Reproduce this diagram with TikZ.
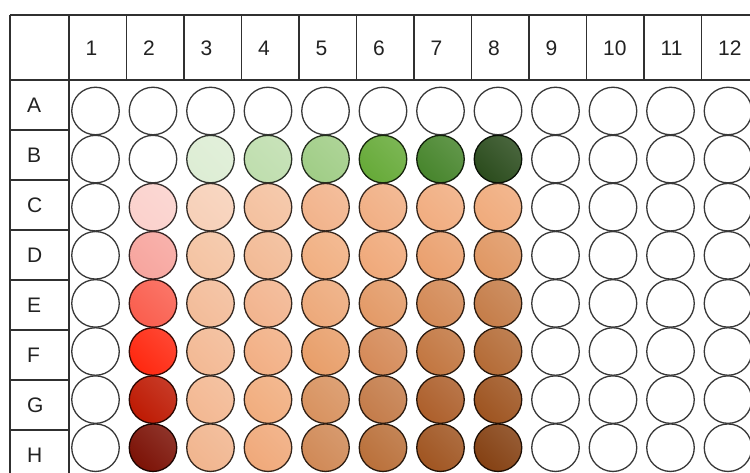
\documentclass[tikz,border=0pt]{standalone}
\usepackage{fontspec}
\setmainfont{Liberation Sans}
% well colours (all others white)
\definecolor{wB3}{HTML}{DDEDD4}\definecolor{wB4}{HTML}{BFDEAE}\definecolor{wB5}{HTML}{A0CD86}
\definecolor{wB6}{HTML}{66AA38}\definecolor{wB7}{HTML}{47852C}\definecolor{wB8}{HTML}{2B4C1D}
\definecolor{wC2}{HTML}{FBD1CC}\definecolor{wD2}{HTML}{F7A59E}\definecolor{wE2}{HTML}{FA5E4E}
\definecolor{wF2}{HTML}{FF2810}\definecolor{wG2}{HTML}{BE1A03}\definecolor{wH2}{HTML}{7C1206}
\definecolor{wC3}{HTML}{F7D0B8}\definecolor{wC4}{HTML}{F4C19F}\definecolor{wC5}{HTML}{F2B38B}
\definecolor{wC6}{HTML}{F1AF84}\definecolor{wC7}{HTML}{F1AD80}\definecolor{wC8}{HTML}{F0AB7C}
\definecolor{wD3}{HTML}{F4C3A2}\definecolor{wD4}{HTML}{F2BA95}\definecolor{wD5}{HTML}{F1AF81}
\definecolor{wD6}{HTML}{F0A97A}\definecolor{wD7}{HTML}{EAA06E}\definecolor{wD8}{HTML}{E09763}
\definecolor{wE3}{HTML}{F3BC99}\definecolor{wE4}{HTML}{F2B48E}\definecolor{wE5}{HTML}{EDA97A}
\definecolor{wE6}{HTML}{E39A67}\definecolor{wE7}{HTML}{D38955}\definecolor{wE8}{HTML}{C57D49}
\definecolor{wF3}{HTML}{F3B994}\definecolor{wF4}{HTML}{F2AF84}\definecolor{wF5}{HTML}{E89E69}
\definecolor{wF6}{HTML}{D58A58}\definecolor{wF7}{HTML}{C27640}\definecolor{wF8}{HTML}{B46B36}
\definecolor{wG3}{HTML}{F3B892}\definecolor{wG4}{HTML}{F1AD7E}\definecolor{wG5}{HTML}{D8925F}
\definecolor{wG6}{HTML}{C47C4A}\definecolor{wG7}{HTML}{AD5F2B}\definecolor{wG8}{HTML}{9E5420}
\definecolor{wH3}{HTML}{F1B58E}\definecolor{wH4}{HTML}{F0A97A}\definecolor{wH5}{HTML}{D08956}
\definecolor{wH6}{HTML}{BA703A}\definecolor{wH7}{HTML}{A05521}\definecolor{wH8}{HTML}{854113}
\definecolor{gridline}{HTML}{303030}
\definecolor{labeltext}{HTML}{222222}
\tikzset{
  gridrule/.style={draw=gridline, line width=1.5pt},
  headlabel/.style={anchor=base west, inner sep=0pt, text=labeltext, font=\fontsize{21}{21}\selectfont},
  well/.style={circle, minimum size=47.5pt, inner sep=0pt, line width=1.3pt}
}
\begin{document}
\begin{tikzpicture}[x=1pt,y=-1pt]
\useasboundingbox (0,0) rectangle (750,473);
\fill[white] (0,0) rectangle (750,473);
% table frame
\draw[gridrule] (10,15) -- (750,15);
\draw[gridrule] (10,80) -- (750,80);
\draw[gridrule] (10,15) -- (10,473);
\draw[gridrule] (69,15) -- (69,473);
\foreach \k in {1,...,11} {
  \draw[gridrule] ({69+57.5*\k},15) -- ({69+57.5*\k},80);
}
\foreach \k in {1,...,7} {
  \draw[gridrule] (10,{80+50*\k}) -- (69,{80+50*\k});
}
% column headers
\foreach \c in {1,...,12} {
  \node[headlabel] (col\c) at ({69+57.5*(\c-1)+16.5},56) {\c};
}
% row labels
\foreach \r [count=\ri] in {A,B,C,D,E,F,G,H} {
  \node[headlabel] (row\r) at (27,{112.5+50*(\ri-1)}) {\r};
}
% wells
\foreach \r [count=\ri] in {A,B,C,D,E,F,G,H} {
  \foreach \c in {1,...,12} {
    \providecolor{w\r\c}{HTML}{FFFFFF}
    \node[well, draw=w\r\c!22!black, left color=w\r\c!86!white, right color=w\r\c, shading angle=-45]
      (\r\c) at ({95.5+57.5*(\c-1)},{111+48.1*(\ri-1)}) {};
  }
}
\end{tikzpicture}
\end{document}
